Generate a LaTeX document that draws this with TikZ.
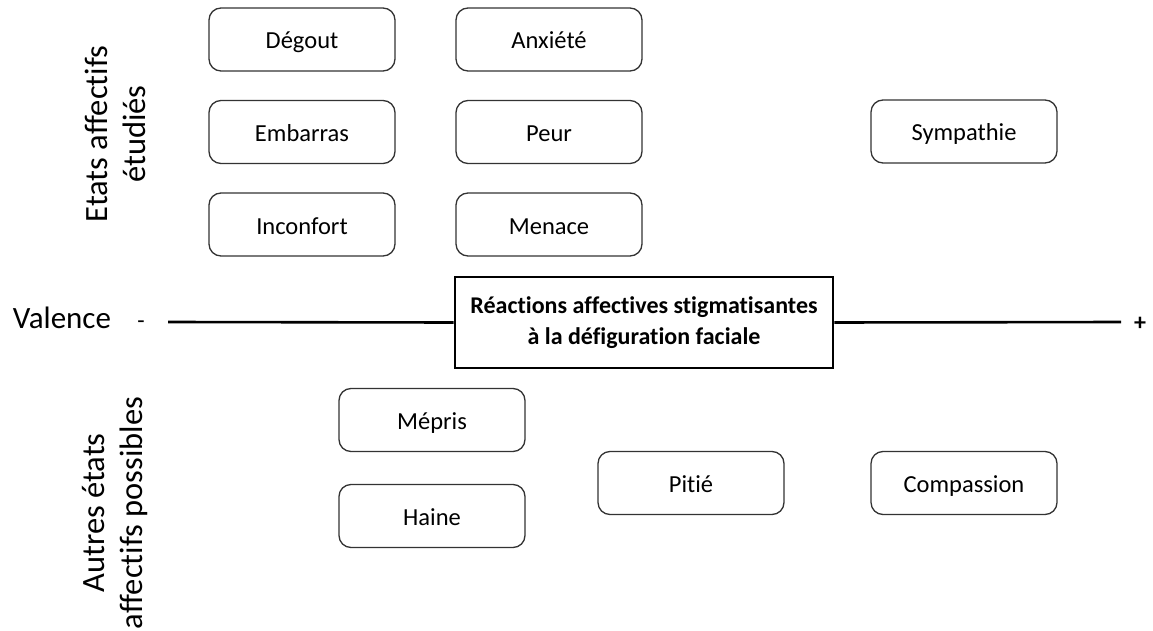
\documentclass[tikz,border=0pt]{standalone}
\usepackage{fontspec}
\setmainfont{Carlito}[Ligatures=NoCommon]
\usetikzlibrary{positioning}

\tikzset{
  etat/.style={draw=black!80,line width=1.3pt,rounded corners=12pt,shape=rectangle,
    minimum width=186pt,minimum height=63pt,inner sep=0pt,text height=24pt,text depth=5pt,
    font=\fontsize{24.5}{29}\selectfont},
  reaction/.style={draw,line width=2.6pt,shape=rectangle,minimum width=378pt,
    minimum height=91pt,inner sep=0pt,fill=white,align=center,
    font=\bfseries\fontsize{24}{29.5}\selectfont},
  titre/.style={rotate=90,align=center,font=\fontsize{32.5}{38}\selectfont},
}

\begin{document}
\begin{tikzpicture}[x=1pt,y=-1pt]
\useasboundingbox (0,0) rectangle (1153,631);
% axe de valence
\coordinate (moins) at (168,322);
\coordinate (plus) at (1121,322);
\path (644,322.5) node(react)[reaction] {R\'eactions affectives stigmatisantes\\[1pt] \`a la d\'efiguration faciale};
\draw[line width=2.6pt] (moins) -- (react.west);
\draw[line width=2.6pt] (react.east) -- (plus);
\path (62,318) node(val)[font=\fontsize{31}{38}\selectfont] {Valence};
\path (141,325) node(signmoins)[font=\fontsize{24}{29}\selectfont] {-};
\path (1140,324) node(signplus)[font=\bfseries\fontsize{24}{29}\selectfont] {+};
% etats etudies
\path (115,134) node(etudies)[titre] {Etats affectifs\\ étudiés};
\path (302,39.5) node(degout)[etat] {Dégout};
\path (549,39.5) node(anxiete)[etat] {Anxiété};
\path (302,132) node(embarras)[etat] {Embarras};
\path (549,132) node(peur)[etat] {Peur};
\path (302,224.5) node(inconfort)[etat] {Inconfort};
\path (549,224.5) node(menace)[etat] {Menace};
\path (964,131.5) node(sympathie)[etat] {Sympathie};
% autres etats
\path (115,513) node(autres)[titre] {Autres états\\ affectifs possibles};
\path (432,420) node(mepris)[etat] {Mépris};
\path (432,516) node(haine)[etat] {Haine};
\path (691,483) node(pitie)[etat] {Pitié};
\path (964,483) node(compassion)[etat] {Compassion};
\end{tikzpicture}
\end{document}
